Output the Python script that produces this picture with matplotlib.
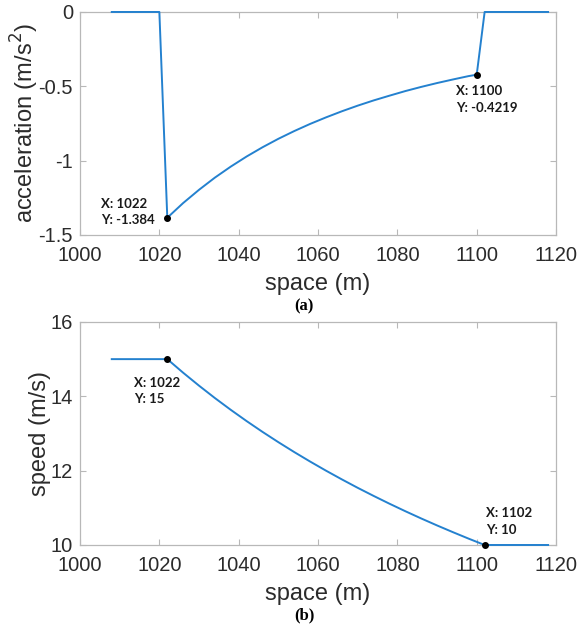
import matplotlib
matplotlib.use('Agg')
import matplotlib.pyplot as plt
from matplotlib.ticker import FormatStrFormatter

plt.rcParams['font.family'] = ['Liberation Sans', 'DejaVu Sans']
plt.rcParams['axes.unicode_minus'] = False

# acceleration profile (a)
accel_x = [1008, 1020, 1022, 1026, 1030, 1034, 1038, 1042, 1046, 1050, 1054,
           1058, 1062, 1066, 1070, 1074, 1078, 1082, 1086, 1090, 1094, 1098,
           1100, 1102, 1118]
accel_y = [0, 0, -1.384, -1.285, -1.196, -1.114, -1.040, -0.972, -0.910,
           -0.853, -0.801, -0.753, -0.709, -0.668, -0.630, -0.595, -0.563,
           -0.532, -0.504, -0.478, -0.454, -0.431, -0.4219, 0, 0]

# speed profile (b)
speed_x = [1008, 1022, 1026, 1030, 1034, 1038, 1042, 1046, 1050, 1054, 1058,
           1062, 1066, 1070, 1074, 1078, 1082, 1086, 1090, 1094, 1098, 1102,
           1118]
speed_y = [15, 15, 14.634, 14.286, 13.953, 13.636, 13.333, 13.043, 12.766,
           12.500, 12.245, 12.000, 11.765, 11.538, 11.321, 11.111, 10.909,
           10.714, 10.526, 10.345, 10.169, 10.0, 10]

# data tips: (x, y, label)
accel_tips = [(1022, -1.384, 'X: 1022\nY: -1.384'),
              (1100, -0.4219, 'X: 1100\nY: -0.4219')]
speed_tips = [(1022, 15, 'X: 1022\nY: 15'),
              (1102, 10, 'X: 1102\nY: 10')]

x_ticks = [1000, 1020, 1040, 1060, 1080, 1100, 1120]

line_color = '#2481cf'
box_color = '#b8b8b8'
text_color = '#2b2b2b'

fig = plt.figure(figsize=(5.82, 6.27), dpi=100)
ax1 = fig.add_axes([0.1375, 0.6252, 0.8179, 0.3557])
ax2 = fig.add_axes([0.1375, 0.1308, 0.8179, 0.3557])


def style(ax):
    for s in ax.spines.values():
        s.set_color(box_color)
        s.set_linewidth(0.9)
    ax.tick_params(direction='in', length=4, width=0.8, color=box_color,
                   labelsize=14.5, labelcolor=text_color, top=True, right=True)
    ax.tick_params(axis='x', pad=8)
    ax.tick_params(axis='y', pad=5)
    ax.set_xlim(1000, 1120)
    ax.set_xticks(x_ticks)
    ax.xaxis.set_major_formatter(FormatStrFormatter('%g'))
    ax.yaxis.set_major_formatter(FormatStrFormatter('%g'))
    ax.set_xlabel('space (m)', fontsize=17, color=text_color, labelpad=6)


def tips(ax, items, offsets):
    for (x, y, lab), off in zip(items, offsets):
        ax.plot(x, y, 'o', color='black', markersize=4, zorder=5,
                clip_on=False)
        ax.annotate(lab, xy=(x, y), xytext=off, textcoords='offset points',
                    ha='left', va='center', fontsize=9.5, fontweight='bold',
                    family=['Lato', 'DejaVu Sans'], color='#1a1a1a',
                    linespacing=1.45)


ax1.plot(accel_x, accel_y, color=line_color, lw=1.4, clip_on=False, zorder=4)
style(ax1)
ax1.set_ylim(-1.5, 0)
ax1.set_yticks([-1.5, -1, -0.5, 0])
ax1.set_ylabel('acceleration (m/s$^2$)', fontsize=17, color=text_color,
               labelpad=-2)
tips(ax1, accel_tips, [(-48, 4), (-15, -18)])

ax2.plot(speed_x, speed_y, color=line_color, lw=1.4, clip_on=False, zorder=4)
style(ax2)
ax2.set_ylim(10, 16)
ax2.set_yticks([10, 12, 14, 16])
ax2.set_ylabel('speed (m/s)', fontsize=17, color=text_color, labelpad=0)
tips(ax2, speed_tips, [(-24, -23), (0.7, 17)])

fig.text(304 / 582, 1 - 306 / 627, '(a)', ha='center', va='center',
         fontsize=12, fontweight='bold', family='Liberation Serif')
fig.text(304 / 582, 1 - 615 / 627, '(b)', ha='center', va='center',
         fontsize=12, fontweight='bold', family='Liberation Serif')

fig.savefig('out.png', dpi=100)
